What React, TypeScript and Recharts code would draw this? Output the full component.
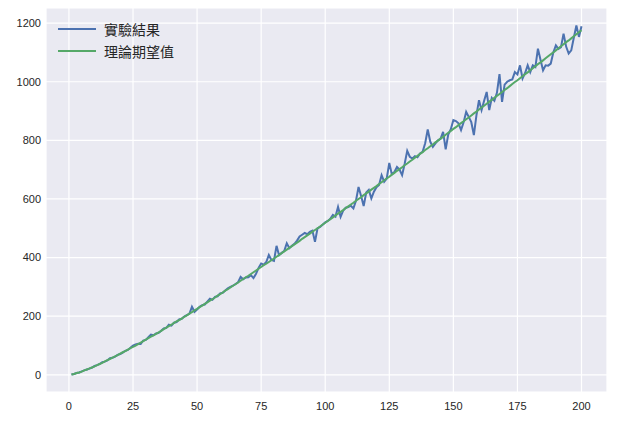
import { LineChart, Line, XAxis, YAxis, CartesianGrid } from 'recharts'

// trial sizes 1..200 on the x axis
const trialSizes = Array.from({ length: 200 }, (_, i) => i + 1)

const xTicks = [0, 25, 50, 75, 100, 125, 150, 175, 200]
const yTicks = [0, 200, 400, 600, 800, 1000, 1200]

const seriesNames = ['實驗結果', '理論期望值']
const seriesColors = ['#4C72B0', '#55A868']

// 實驗結果 (blue)
const experimental = [
    1, 3, 6, 8, 12, 15, 18, 21, 25, 30,
    33, 37, 43, 45, 49, 57, 58, 62, 68, 71,
    76, 82, 85, 92, 100, 104, 106, 105, 117, 119,
    128, 137, 135, 141, 143, 150, 158, 160, 171, 168,
    178, 180, 189, 191, 199, 204, 208, 232, 215, 223,
    232, 238, 240, 250, 260, 256, 266, 268, 278, 280,
    288, 295, 300, 304, 310, 316, 334, 326, 332, 333,
    340, 330, 345, 365, 380, 376, 385, 409, 392, 389,
    440, 408, 416, 422, 449, 432, 440, 447, 458, 472,
    478, 484, 480, 488, 492, 454, 500, 505, 512, 520,
    525, 532, 546, 540, 573, 539, 560, 570, 572, 577,
    568, 594, 641, 610, 576, 622, 631, 602, 625, 640,
    648, 681, 659, 670, 723, 684, 692, 709, 700, 681,
    720, 764, 744, 738, 746, 742, 755, 761, 790, 837,
    795, 778, 790, 800, 805, 829, 769, 820, 838, 869,
    866, 858, 835, 862, 897, 880, 862, 818, 885, 937,
    903, 935, 965, 903, 945, 935, 962, 1026, 931, 990,
    1000, 1005, 1008, 1033, 1025, 1056, 1011, 1030, 1056, 1033,
    1056, 1050, 1113, 1075, 1039, 1056, 1055, 1062, 1100, 1124,
    1112, 1118, 1164, 1120, 1096, 1107, 1150, 1192, 1153, 1189,
]

// 理論期望值 (green)
const expected = [
    1, 3, 6, 8, 11, 15, 18, 22, 25, 29,
    33, 37, 41, 46, 50, 54, 59, 63, 67, 72,
    77, 81, 86, 91, 95, 100, 105, 110, 115, 120,
    125, 130, 135, 140, 145, 150, 156, 161, 166, 171,
    177, 182, 187, 192, 198, 203, 209, 214, 220, 225,
    231, 236, 242, 247, 253, 258, 264, 270, 275, 281,
    287, 292, 298, 304, 309, 315, 321, 327, 333, 338,
    344, 350, 356, 362, 368, 374, 379, 385, 391, 397,
    403, 409, 415, 421, 427, 433, 439, 445, 451, 457,
    464, 470, 476, 482, 488, 494, 500, 506, 513, 519,
    525, 531, 537, 544, 550, 556, 562, 569, 575, 581,
    587, 594, 600, 606, 613, 619, 625, 632, 638, 644,
    651, 657, 664, 670, 676, 683, 689, 696, 702, 708,
    715, 721, 728, 734, 741, 747, 754, 760, 767, 773,
    780, 786, 793, 799, 806, 812, 819, 826, 832, 839,
    845, 852, 859, 865, 872, 878, 885, 892, 898, 905,
    912, 918, 925, 932, 938, 945, 952, 958, 965, 972,
    978, 985, 992, 999, 1005, 1012, 1019, 1026, 1032, 1039,
    1046, 1053, 1060, 1066, 1073, 1080, 1087, 1094, 1100, 1107,
    1114, 1121, 1128, 1135, 1141, 1148, 1155, 1162, 1169, 1176,
]

const data = trialSizes.map((n, i) => ({ n, exp: experimental[i], theo: expected[i] }))

const tickStyle = { fill: '#262626', fontSize: 11, fontFamily: '"Liberation Sans", Arial, sans-serif' }

export default function App() {
    return (
        <div style={{ position: 'absolute', left: 0, top: 0, width: 624, height: 426, background: '#fff' }}>
            <LineChart width={624} height={426} data={data} margin={{ top: 8, right: 17, bottom: 0, left: 6 }}>
                <CartesianGrid fill="#EAEAF2" stroke="#ffffff" strokeWidth={1.2} />
                <XAxis
                    dataKey="n"
                    type="number"
                    domain={[-8.95, 209.95]}
                    ticks={xTicks}
                    allowDataOverflow
                    axisLine={false}
                    tickLine={false}
                    tickSize={0}
                    tickMargin={10}
                    height={34}
                    tick={tickStyle}
                />
                <YAxis
                    type="number"
                    domain={[-58.6, 1251.6]}
                    ticks={yTicks}
                    allowDataOverflow
                    axisLine={false}
                    tickLine={false}
                    tickSize={0}
                    tickMargin={5}
                    width={40}
                    tick={tickStyle}
                />
                <Line
                    name={seriesNames[0]}
                    dataKey="exp"
                    stroke={seriesColors[0]}
                    strokeWidth={2}
                    dot={false}
                    isAnimationActive={false}
                />
                <Line
                    name={seriesNames[1]}
                    dataKey="theo"
                    stroke={seriesColors[1]}
                    strokeWidth={2}
                    dot={false}
                    isAnimationActive={false}
                />
            </LineChart>
            {/* legend, drawn over the plot like matplotlib's frameless legend */}
            <div
                style={{
                    position: 'absolute',
                    left: 58,
                    top: 18,
                    fontFamily: '"Noto Sans CJK TC", sans-serif',
                    fontSize: 14,
                    color: '#262626',
                }}
            >
                {seriesNames.map((name, i) => (
                    <div key={name} style={{ display: 'flex', alignItems: 'center', height: 22 }}>
                        <svg width={38} height={4} style={{ marginRight: 8 }}>
                            <line x1={0} y1={2} x2={38} y2={2} stroke={seriesColors[i]} strokeWidth={2} />
                        </svg>
                        <span>{name}</span>
                    </div>
                ))}
            </div>
        </div>
    )
}
